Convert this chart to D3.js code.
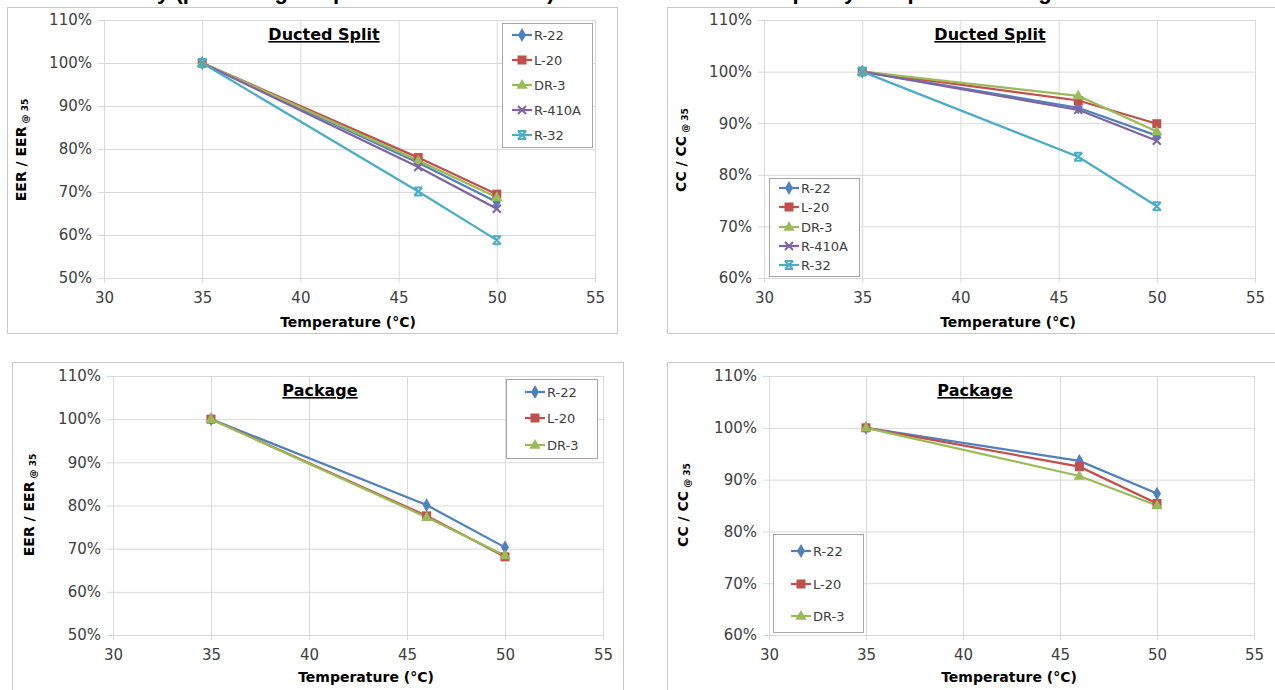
<!DOCTYPE html>
<html><head><meta charset="utf-8">
<script src="https://cdn.jsdelivr.net/npm/d3@7"></script>
<style>
body{margin:0;background:#fff;overflow:hidden;}
svg{display:block;font-family:"DejaVu Sans",sans-serif;}
</style>
</head><body>
<svg id="c" width="1275" height="690"></svg>
<script>
// ---------- data ----------
const temps = [35, 46, 50];
const xTicks = [30, 35, 40, 45, 50, 55];
const eerTicks = [50, 60, 70, 80, 90, 100, 110];
const ccTicks = [60, 70, 80, 90, 100, 110];
const ductedSeries = ["R-22", "L-20", "DR-3", "R-410A", "R-32"];
const packageSeries = ["R-22", "L-20", "DR-3"];

// Ducted Split, EER / EER@35 (%)
const ductedEER_R22   = [100, 76.8, 67.7];
const ductedEER_L20   = [100, 78.0, 69.5];
const ductedEER_DR3   = [100, 77.3, 68.8];
const ductedEER_R410A = [100, 75.8, 66.1];
const ductedEER_R32   = [100, 70.1, 58.8];
// Ducted Split, CC / CC@35 (%)
const ductedCC_R22   = [100, 93.0, 87.6];
const ductedCC_L20   = [100, 94.4, 89.9];
const ductedCC_DR3   = [100, 95.3, 88.4];
const ductedCC_R410A = [100, 92.6, 86.6];
const ductedCC_R32   = [100, 83.5, 73.9];
// Package, EER / EER@35 (%)
const packageEER_R22 = [100, 80.1, 70.3];
const packageEER_L20 = [100, 77.6, 68.1];
const packageEER_DR3 = [100, 77.3, 68.4];
// Package, CC / CC@35 (%)
const packageCC_R22 = [100, 93.6, 87.3];
const packageCC_L20 = [100, 92.5, 85.4];
const packageCC_DR3 = [100, 90.7, 85.0];

const panelTitles = ["Ducted Split", "Ducted Split", "Package", "Package"];
const pageTitles = ["Efficiency (percentage of performance at 35°C)", "Capacity comparison at high ambient"];
const xTitle = "Temperature (°C)";

// ---------- styles ----------
const colors = {"R-22":"#4F81BD","L-20":"#C0504D","DR-3":"#9BBB59","R-410A":"#8064A2","R-32":"#4BACC6"};
const markerType = {"R-22":"diamond","L-20":"square","DR-3":"triangle","R-410A":"x","R-32":"star"};
const gridColor = "#d9d9d9";
const frameColor = "#c8c8c8";

const svg = d3.select("#c");

// clipped page titles (only descenders visible in reference)
svg.append("text").attr("x", 310).attr("y", -1).attr("text-anchor","middle")
  .attr("font-size", 22).attr("font-weight","bold").attr("font-family","Liberation Sans")
  .attr("fill","#000").text(pageTitles[0]);
svg.append("text").attr("x", 960).attr("y", -1).attr("text-anchor","middle")
  .attr("font-size", 22).attr("font-weight","bold").attr("font-family","Liberation Sans")
  .attr("fill","#000").text(pageTitles[1]);

function drawMarker(g, type, cx, cy, color){
  if(type === "diamond"){
    g.append("path").attr("d", d3.symbol(d3.symbolDiamond, 55)()).attr("transform",`translate(${cx},${cy})`).attr("fill",color);
  } else if(type === "square"){
    g.append("rect").attr("x",cx-4.5).attr("y",cy-4.5).attr("width",9).attr("height",9).attr("fill",color);
  } else if(type === "triangle"){
    g.append("path").attr("d", d3.symbol(d3.symbolTriangle, 55)()).attr("transform",`translate(${cx},${cy+0.5})`).attr("fill",color);
  } else if(type === "x"){
    const s = 4;
    g.append("path").attr("d",`M${cx-s},${cy-s}L${cx+s},${cy+s}M${cx-s},${cy+s}L${cx+s},${cy-s}`)
      .attr("stroke",color).attr("stroke-width",2).attr("fill","none");
  } else if(type === "star"){
    const s = 4;
    g.append("path").attr("d",`M${cx-s},${cy-s}L${cx+s},${cy+s}M${cx-s},${cy+s}L${cx+s},${cy-s}M${cx-s},${cy-s}L${cx+s},${cy-s}M${cx-s},${cy+s}L${cx+s},${cy+s}`)
      .attr("stroke",color).attr("stroke-width",2).attr("fill","none");
  }
}

function drawPanel(p){
  const g = svg.append("g");
  g.append("rect").attr("x",p.frame[0]+0.5).attr("y",p.frame[1]+0.5)
    .attr("width",p.frame[2]-p.frame[0]).attr("height",p.frame[3]-p.frame[1])
    .attr("fill","#fff").attr("stroke",frameColor).attr("stroke-width",1);

  const x = d3.scaleLinear().domain([30,55]).range([p.x0,p.x1]);
  const y = d3.scaleLinear().domain([p.ticks[0], 110]).range([p.yB,p.yT]);

  const yAxis = d3.axisLeft(y).tickValues(p.ticks).tickSize(-(p.x1-p.x0)).tickFormat(d=>d+"%").tickPadding(12);
  const ya = g.append("g").attr("transform",`translate(${p.x0},0)`).call(yAxis);
  ya.select(".domain").remove();
  ya.selectAll(".tick line").attr("stroke",gridColor).attr("x1",-6).attr("x2",p.x1-p.x0);
  ya.selectAll(".tick text").attr("font-size",15).attr("fill","#404040").attr("font-family","DejaVu Sans");

  const xAxis = d3.axisBottom(x).tickValues(xTicks).tickSize(-(p.yB-p.yT)).tickPadding(14);
  const xa = g.append("g").attr("transform",`translate(0,${p.yB})`).call(xAxis);
  xa.select(".domain").remove();
  xa.selectAll(".tick line").attr("stroke",gridColor).attr("y1",5);
  xa.selectAll(".tick text").attr("font-size",15).attr("fill","#404040").attr("font-family","DejaVu Sans");

  g.append("text").attr("x",p.xTitle[0]).attr("y",p.xTitle[1]).attr("text-anchor","middle")
    .attr("font-size",14).attr("font-weight","bold").attr("fill","#000").text(xTitle);
  const yt = g.append("text").attr("transform",`translate(${p.yTitle[0]},${p.yTitle[1]}) rotate(-90)`)
    .attr("text-anchor","middle").attr("font-weight","bold").attr("fill","#000");
  yt.append("tspan").attr("font-size",14).text(p.yLabel);
  yt.append("tspan").attr("font-size",9).attr("dy",2).text(" @ 35");

  g.append("text").attr("x",p.title[0]).attr("y",p.title[1]).attr("text-anchor","middle")
    .attr("font-size",16).attr("font-weight","bold").attr("text-decoration","underline")
    .attr("fill","#000").text(p.titleText);

  const line = d3.line().x((d,i)=>x(temps[i])).y(d=>y(d));
  p.series.forEach(s=>{
    g.append("path").datum(s.values).attr("d",line).attr("fill","none")
      .attr("stroke",colors[s.name]).attr("stroke-width",2.25);
  });
  p.series.forEach(s=>{
    s.values.forEach((v,i)=> drawMarker(g, markerType[s.name], x(temps[i]), y(v), colors[s.name]));
  });

  const L = p.legend;
  g.append("rect").attr("x",L.box[0]+0.5).attr("y",L.box[1]+0.5).attr("width",L.box[2]-L.box[0]).attr("height",L.box[3]-L.box[1])
    .attr("fill","#fff").attr("stroke","#a6a6a6");
  p.series.forEach((s,i)=>{
    const yy = L.rows[i];
    g.append("line").attr("x1",L.lx[0]).attr("x2",L.lx[1]).attr("y1",yy).attr("y2",yy)
      .attr("stroke",colors[s.name]).attr("stroke-width",2.25);
    drawMarker(g, markerType[s.name], (L.lx[0]+L.lx[1])/2, yy, colors[s.name]);
    g.append("text").attr("x",L.lx[1]+2).attr("y",yy).attr("dy","0.35em")
      .attr("font-size",13).attr("fill","#404040").text(s.name);
  });
}

const mk = (names, arrs) => names.map((n,i)=>({name:n, values:arrs[i]}));

drawPanel({
  frame:[7,7,617,333], x0:104, x1:595, yT:20, yB:278, ticks:eerTicks,
  yLabel:"EER / EER", yTitle:[26,150], xTitle:[348,327], title:[324,40], titleText:panelTitles[0],
  series: mk(ductedSeries,[ductedEER_R22,ductedEER_L20,ductedEER_DR3,ductedEER_R410A,ductedEER_R32]),
  legend:{box:[502,23,592,147], rows:[35,60,85,110,135], lx:[512,532]}
});
drawPanel({
  frame:[667,7,1285,333], x0:764, x1:1255, yT:20, yB:278, ticks:ccTicks,
  yLabel:"CC / CC", yTitle:[686,150], xTitle:[1008,327], title:[990,40], titleText:panelTitles[1],
  series: mk(ductedSeries,[ductedCC_R22,ductedCC_L20,ductedCC_DR3,ductedCC_R410A,ductedCC_R32]),
  legend:{box:[769,178,859,276], rows:[188,207,227,246,265], lx:[779,799]}
});
drawPanel({
  frame:[12,362,623,700], x0:113, x1:603, yT:376, yB:635, ticks:eerTicks,
  yLabel:"EER / EER", yTitle:[34,505], xTitle:[366,682], title:[320,396], titleText:panelTitles[2],
  series: mk(packageSeries,[packageEER_R22,packageEER_L20,packageEER_DR3]),
  legend:{box:[506,379,597,458], rows:[392,418,445], lx:[525,545]}
});
drawPanel({
  frame:[667,362,1285,700], x0:769, x1:1254, yT:376, yB:635, ticks:ccTicks,
  yLabel:"CC / CC", yTitle:[688,505], xTitle:[1009,682], title:[975,396], titleText:panelTitles[3],
  series: mk(packageSeries,[packageCC_R22,packageCC_L20,packageCC_DR3]),
  legend:{box:[773,534,863,632], rows:[551,584,616], lx:[791,811]}
});
</script>
</body></html>
